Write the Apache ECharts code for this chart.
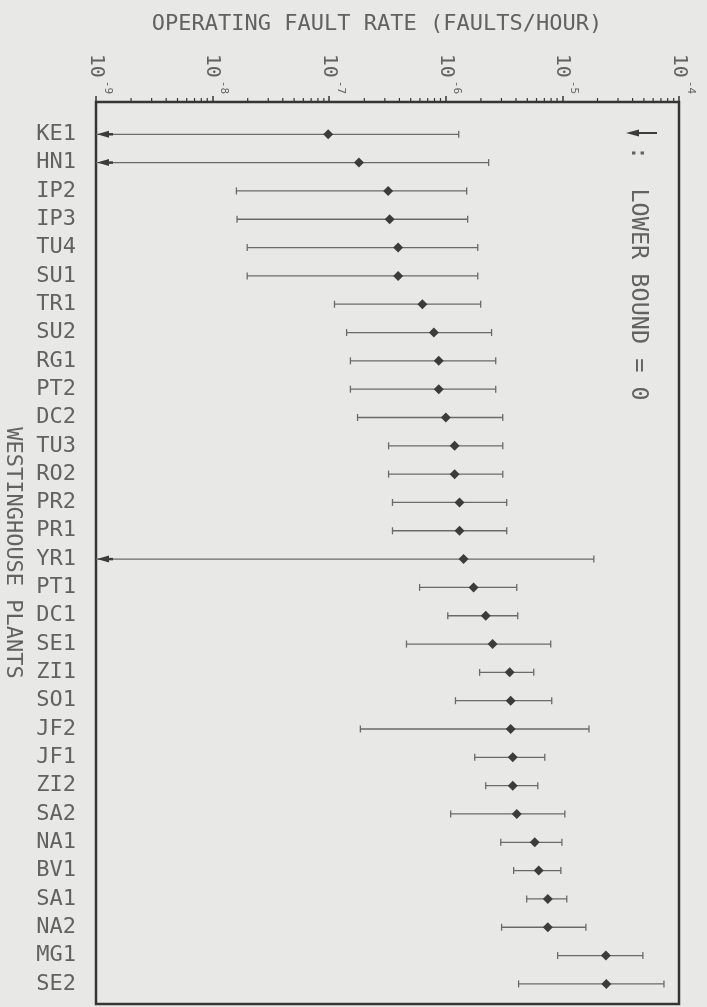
<!DOCTYPE html>
<html>
<head>
<meta charset="utf-8">
<script src="https://cdn.jsdelivr.net/npm/echarts@6/dist/echarts.min.js"></script>
<style>
  html, body { margin: 0; padding: 0; background: #e8e8e6; }
  #chart { width: 707px; height: 1007px; }
</style>
</head>
<body>
<div id="chart"></div>
<script>
// Plants, top to bottom
const plants = ['KE1','HN1','IP2','IP3','TU4','SU1','TR1','SU2','RG1','PT2','DC2',
                'TU3','RO2','PR2','PR1','YR1','PT1','DC1','SE1','ZI1','SO1','JF2',
                'JF1','ZI2','SA2','NA1','BV1','SA1','NA2','MG1','SE2'];

// Point estimate of the operating fault rate (faults/hour)
const faultRate = [9.8e-8, 1.8e-7, 3.2e-7, 3.3e-7, 3.9e-7, 3.9e-7, 6.3e-7, 7.9e-7, 8.7e-7, 8.7e-7, 1.0e-6,
                   1.19e-6, 1.19e-6, 1.31e-6, 1.31e-6, 1.42e-6, 1.73e-6, 2.2e-6, 2.52e-6, 3.53e-6, 3.6e-6, 3.6e-6,
                   3.75e-6, 3.75e-6, 4.06e-6, 5.79e-6, 6.26e-6, 7.5e-6, 7.5e-6, 2.36e-5, 2.38e-5];

// Lower bound of the interval (0 = lower bound is zero)
const lowerBound = [0, 0, 1.6e-8, 1.62e-8, 1.98e-8, 1.98e-8, 1.11e-7, 1.41e-7, 1.52e-7, 1.52e-7, 1.75e-7,
                    3.23e-7, 3.23e-7, 3.49e-7, 3.49e-7, 0, 5.96e-7, 1.04e-6, 4.6e-7, 1.95e-6, 1.21e-6, 1.85e-7,
                    1.77e-6, 2.2e-6, 1.1e-6, 2.96e-6, 3.82e-6, 4.94e-6, 3.01e-6, 9.1e-6, 4.21e-6];

// Upper bound of the interval
const upperBound = [1.29e-6, 2.33e-6, 1.51e-6, 1.54e-6, 1.88e-6, 1.88e-6, 1.99e-6, 2.47e-6, 2.68e-6, 2.68e-6, 3.08e-6,
                    3.08e-6, 3.08e-6, 3.33e-6, 3.33e-6, 1.86e-5, 4.06e-6, 4.14e-6, 7.94e-6, 5.68e-6, 8.1e-6, 1.69e-5,
                    7.06e-6, 6.15e-6, 1.05e-5, 9.9e-6, 9.7e-6, 1.09e-5, 1.59e-5, 4.9e-5, 7.43e-5];

// Decade exponents labelled on the rate axis
const decadeExponents = [-9, -8, -7, -6, -5, -4];

const X_MIN = Math.pow(10, decadeExponents[0]);
const X_MAX = Math.pow(10, decadeExponents[decadeExponents.length - 1]);

const FONT = 'DejaVu Sans Mono';
const TEXT = '#626262';
const FRAME = '#353535';
const BAR = '#6a6a6a';
const MARK = '#3c3c3c';

// Log-axis minor ticks at 2..9 within every decade
const minorTicks = [];
for (let d = 0; d < decadeExponents.length - 1; d++) {
  for (let m = 2; m <= 9; m++) minorTicks.push(m * Math.pow(10, decadeExponents[d]));
}

function renderMinorTick(params, api) {
  const x = api.coord([api.value(0), 0])[0];
  const top = params.coordSys.y;
  return {
    type: 'line',
    shape: { x1: x, y1: top, x2: x, y2: top - 4 },
    style: { stroke: FRAME, lineWidth: 1.2 }
  };
}

// Decade labels "10^n", turned a quarter clockwise above the top axis
function renderDecadeLabel(params, api) {
  const v = api.value(0);
  const x = api.coord([v, 0])[0];
  const exp = Math.round(Math.log10(v));
  return {
    type: 'text',
    x: x,
    y: params.coordSys.y - 8,
    rotation: -Math.PI / 2,
    style: {
      text: '{b|10}{e|' + exp + '}',
      align: 'right',
      verticalAlign: 'middle',
      rich: {
        b: { fontFamily: FONT, fontSize: 20, fill: TEXT, lineHeight: 34 },
        e: { fontFamily: FONT, fontSize: 11, fill: TEXT, lineHeight: 11, verticalAlign: 'top', padding: [0, 0, 0, 3] }
      }
    }
  };
}

function renderInterval(params, api) {
  const row = api.value(0);
  const mean = api.value(1);
  const lo = api.value(2);
  const hi = api.value(3);
  const pm = api.coord([mean, row]);
  const y = pm[1];
  const xm = pm[0];
  const xh = api.coord([hi, row])[0];
  const open = !(lo > 0);
  const xl = api.coord([open ? X_MIN : lo, row])[0];
  const cap = 3.5;
  const children = [
    { type: 'line', shape: { x1: xl, y1: y, x2: xh, y2: y }, style: { stroke: BAR, lineWidth: 1.3 } },
    { type: 'line', shape: { x1: xh, y1: y - cap, x2: xh, y2: y + cap }, style: { stroke: BAR, lineWidth: 1.3 } }
  ];
  if (open) {
    // zero lower bound: arrow head against the left edge
    children.push({ type: 'polygon', shape: { points: [[xl + 1, y], [xl + 13, y - 3.5], [xl + 13, y + 3.5]] },
                    style: { fill: MARK } });
    children.push({ type: 'line', shape: { x1: xl + 10, y1: y, x2: xl + 17, y2: y }, style: { stroke: MARK, lineWidth: 2.5 } });
  } else {
    children.push({ type: 'line', shape: { x1: xl, y1: y - cap, x2: xl, y2: y + cap }, style: { stroke: BAR, lineWidth: 1.3 } });
  }
  children.push({ type: 'polygon', shape: { points: [[xm - 5, y], [xm, y - 5], [xm + 5, y], [xm, y + 5]] },
                  style: { fill: MARK } });
  return { type: 'group', children };
}

const chart = echarts.init(document.getElementById('chart'), null, { renderer: 'canvas' });

chart.setOption({
  backgroundColor: '#e8e8e6',
  animation: false,
  title: {
    text: 'OPERATING FAULT RATE (FAULTS/HOUR)',
    left: 372,
    top: 8,
    textAlign: 'center',
    textStyle: { fontFamily: FONT, fontSize: 22, fontWeight: 'normal', color: TEXT }
  },
  grid: {
    left: 96, right: 28, top: 102, bottom: 3,
    outerBoundsMode: 'none',
    containLabel: false,
    show: true, borderColor: FRAME, borderWidth: 2.5, backgroundColor: 'transparent'
  },
  xAxis: {
    type: 'log',
    logBase: 10,
    min: X_MIN,
    max: X_MAX,
    position: 'top',
    axisLine: { show: true, onZero: false, lineStyle: { color: FRAME, width: 2 } },
    axisTick: { show: true, length: 6, lineStyle: { color: FRAME, width: 1.5 } },
    splitLine: { show: false },
    axisLabel: { show: false }
  },
  yAxis: {
    type: 'value',
    inverse: true,
    min: -1.14,
    max: 30.71,
    name: 'WESTINGHOUSE PLANTS',
    nameLocation: 'middle',
    nameRotate: -90,
    nameGap: 72,
    nameTextStyle: { fontFamily: FONT, fontSize: 22, color: TEXT },
    axisLine: { show: false, onZero: false },
    axisTick: { show: false },
    splitLine: { show: false },
    axisLabel: {
      customValues: plants.map((_, i) => i),
      formatter: v => plants[Math.round(v)] || '',
      margin: 20,
      fontFamily: FONT,
      fontSize: 22,
      color: TEXT
    }
  },
  graphic: [
    { type: 'polygon', shape: { points: [[626, 133], [639, 129.5], [639, 136.5]] }, style: { fill: MARK } },
    { type: 'line', shape: { x1: 636, y1: 133, x2: 657, y2: 133 }, style: { stroke: MARK, lineWidth: 2 } },
    { type: 'text', x: 638, y: 146, rotation: -Math.PI / 2,
      style: { text: ':  LOWER BOUND = 0', font: '23.5px "DejaVu Sans Mono"', fill: TEXT,
               align: 'left', verticalAlign: 'middle' } }
  ],
  series: [
    {
      type: 'custom',
      name: 'minor ticks',
      renderItem: renderMinorTick,
      data: minorTicks.map(v => [v]),
      encode: { x: 0 },
      silent: true
    },
    {
      type: 'custom',
      name: 'decade labels',
      renderItem: renderDecadeLabel,
      data: decadeExponents.map(e => [Math.pow(10, e)]),
      encode: { x: 0 },
      silent: true
    },
    {
      type: 'custom',
      name: 'fault rate',
      renderItem: renderInterval,
      data: plants.map((p, i) => [i, faultRate[i], lowerBound[i], upperBound[i]]),
      encode: { x: 1, y: 0 }
    }
  ]
});
</script>
</body>
</html>
